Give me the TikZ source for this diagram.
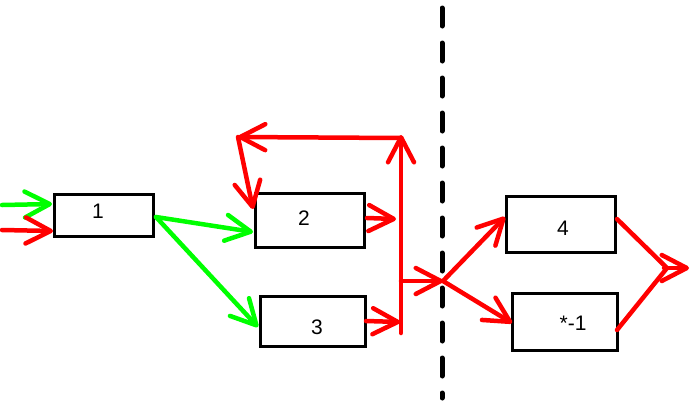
\documentclass[tikz,border=0pt]{standalone}
\usepackage{fontspec}
\setmainfont{Liberation Sans}
\usetikzlibrary{arrows.meta}
\definecolor{gr}{RGB}{0,255,0}
\definecolor{rd}{RGB}{255,0,0}
\begin{document}
\begin{tikzpicture}[x=1pt,y=-1pt,
  box/.style={draw=black,line width=3pt,fill=white,inner sep=0pt},
  lbl/.style={font=\fontsize{21}{24}\selectfont,inner sep=0pt},
  arr/.style={line width=4.5pt,line cap=round,-{Straight Barb[length=25pt,width=26pt,round]}},
  seg/.style={line width=4.5pt,line cap=round,line join=round},
  divider/.style={line width=5pt,line cap=round,dash pattern=on 18pt off 17pt}]
\useasboundingbox (0,0) rectangle (700,400);
% divider
\coordinate (dtop) at (442,8);
\coordinate (dbot) at (442,398);
\draw[divider] (dtop) -- (dbot);
% boxes
\node[box,minimum width=99pt,minimum height=42pt] (b1) at (104,215.5) {};
\node[box,minimum width=109pt,minimum height=54pt] (b2) at (310,220.5) {};
\node[box,minimum width=105pt,minimum height=50pt] (b3) at (313,321.5) {};
\node[box,minimum width=109pt,minimum height=56pt] (b4) at (561,224.5) {};
\node[box,minimum width=105pt,minimum height=57pt] (b5) at (565,322) {};
% labels
\node[lbl] (l1) at (98,211) {1};
\node[lbl] (l2) at (304,218) {2};
\node[lbl] (l3) at (317,327) {3};
\node[lbl] (l4) at (563,228) {4};
\node[lbl] (l5) at (573,323) {*-1};
% coordinates
\coordinate (inG) at (2,205);
\coordinate (inGt) at (52,204);
\coordinate (inR) at (2,230);
\coordinate (inRt) at (53,231);
\coordinate (o1) at (156,217);
\coordinate (i2) at (253,232);
\coordinate (i3) at (258,327);
\coordinate (o2) at (367,218);
\coordinate (o2t) at (396,219);
\coordinate (o3) at (366,321);
\coordinate (o3t) at (400,322);
\coordinate (vbot) at (401,333);
\coordinate (vtop) at (401,135);
\coordinate (hR) at (401,138);
\coordinate (hL) at (238,137);
\coordinate (i2top) at (253,209);
\coordinate (vmid) at (401,281);
\coordinate (x) at (443,281);
\coordinate (i4) at (505,217);
\coordinate (i5) at (512,323);
\coordinate (o4) at (617,219);
\coordinate (o5) at (617,330);
\coordinate (m) at (667,268);
\coordinate (ms) at (664,268);
\coordinate (out) at (689,268);
% green arrows
\draw[arr,gr] (inG) -- (inGt);
\draw[arr,gr] (o1) -- (i2);
\draw[arr,gr] (o1) -- (i3);
% red arrows
\draw[arr,rd] (inR) -- (inRt);
\draw[arr,rd] (o2) -- (o2t);
\draw[arr,rd] (o3) -- (o3t);
\draw[arr,rd] (vbot) -- (vtop);
\draw[arr,rd] (hR) -- (hL);
\draw[arr,rd] (hL) -- (i2top);
\draw[arr,rd] (vmid) -- (x);
\draw[arr,rd] (x) -- (i4);
\draw[arr,rd] (x) -- (i5);
\draw[seg,rd] (o4) -- (m) -- (o5);
\draw[arr,rd] (ms) -- (out);
\end{tikzpicture}
\end{document}
